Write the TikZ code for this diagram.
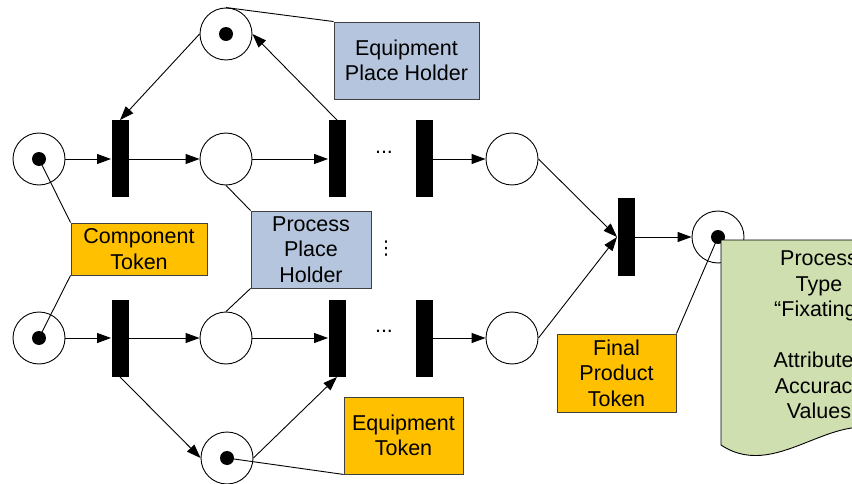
\documentclass[tikz,border=0pt]{standalone}
\usepackage{fontspec}
\setmainfont{Liberation Sans}
\newfontfamily\dejavu{DejaVu Sans}
\usepackage{tikz}
\usetikzlibrary{arrows.meta}
\definecolor{petorange}{HTML}{FFC000}
\definecolor{petblue}{HTML}{B4C5DD}
\definecolor{petgreen}{HTML}{D0DFB0}
\definecolor{petedge}{HTML}{404040}

\begin{document}
\begin{tikzpicture}[x=1pt, y=-1pt, line width=0.9pt,
  font=\fontsize{21.5}{25.5}\selectfont,
  pplace/.style={circle, draw, minimum size=52pt, inner sep=0pt},
  ptrans/.style={fill=black, minimum width=17pt, minimum height=77pt, inner sep=0pt},
  ptoken/.style={circle, fill=black, minimum size=14pt, inner sep=0pt},
  note/.style={draw=petedge, align=center, inner sep=0pt},
  arc/.style={-{Triangle[length=14pt, width=10pt]}}]
  \useasboundingbox (0,0) rectangle (852,484);
  \clip (0,0) rectangle (852,484);
  % places
  \foreach \n/\x/\y in {p1/39/159, p2/39/338, eqt/226/34, ptm/226/159, pbm/226/338,
                        eqb/227/458, ptr/512/159, pbr/512/338, pfin/718/237}
    \node[pplace] (\n) at (\x,\y) {};
  % tokens
  \foreach \n in {p1,p2,eqt,eqb,pfin}
    \node[ptoken] (k\n) at (\n) {};
  % transitions
  \foreach \n/\x/\y in {t1/120/159, t2/337/159, t3/424/159, b1/120/338, b2/337/338,
                        b3/424/338, tfin/626/237}
    \node[ptrans] (\n) at (\x,\y) {};
  % arcs
  \foreach \a/\b in {p1/t1, t1/ptm, ptm/t2, t3/ptr, p2/b1, b1/pbm, pbm/b2, b3/pbr,
                     ptr.east/tfin.west, pbr.east/tfin.west, tfin/pfin}
    \draw[arc] (\a) -- (\b);
  \draw[arc] (eqt.west) -- (t1.north);
  \draw[arc] (t2.north) -- (eqt.east);
  \draw[arc] (b1.south) -- (eqb.west);
  \draw[arc] (eqb.east) -- (b2.south);
  % gaps in the chains
  \node (dtop) at (384,152) {...};
  \node (dbot) at (384,331) {...};
  \node[font=\dejavu\fontsize{19}{19}\selectfont, inner sep=0pt] (dmid) at (386,249) {⋮};
  % notes
  \node[note, fill=petblue, minimum width=145pt, minimum height=77pt] (eqph) at (406.5,60.5) {Equipment\\Place Holder};
  \node[note, fill=petblue, minimum width=120pt, minimum height=77pt] (prph) at (311,249.5) {Process\\Place\\Holder};
  \node[note, fill=petorange, minimum width=136pt, minimum height=52pt] (comp) at (139,249) {Component\\Token};
  \node[note, fill=petorange, minimum width=119pt, minimum height=77pt] (eqtok) at (403.5,435.5) {Equipment\\Token};
  \node[note, fill=petorange, minimum width=119pt, minimum height=78pt] (fintok) at (616.5,373) {Final\\Product\\Token};
  % callout lines
  \draw (eqt.north) -- (eqph.north west);
  \draw (kp1.center) -- (comp.north west);
  \draw (kp2.center) -- (comp.south west);
  \draw (ptm.south) -- (prph.north west);
  \draw (pbm.north) -- (prph.south west);
  \draw (keqb.center) -- (eqtok.south west);
  \draw (fintok.north east) -- (kpfin.center);
  % process document
  \draw[fill=petgreen] (721,240) -- (721,445) .. controls (781,485) and (841,395) .. (901,440)
    -- (901,240) -- cycle;
  \node[align=center] (proc) at (819,335) {Process\\Type\\“Fixating”\\[25.5pt]Attributes\\Accuracy\\Values};
\end{tikzpicture}
\end{document}
